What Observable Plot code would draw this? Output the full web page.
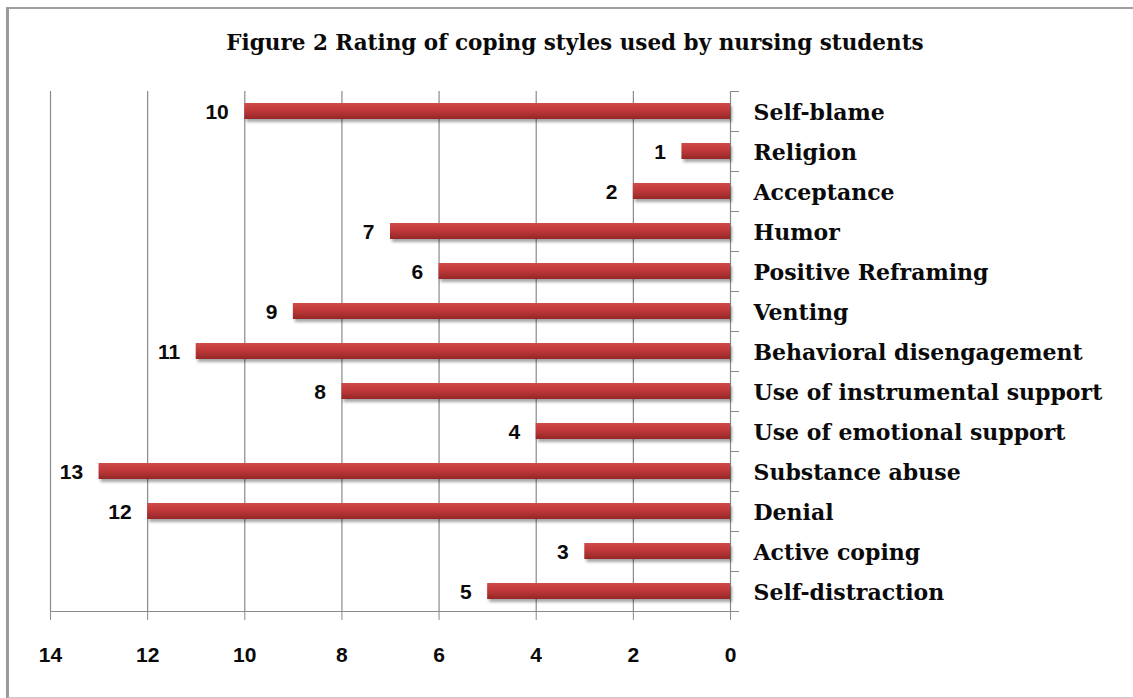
<!DOCTYPE html>
<html>
<head>
<meta charset="utf-8">
<script src="https://cdn.jsdelivr.net/npm/d3@7"></script>
<script src="https://cdn.jsdelivr.net/npm/@observablehq/plot@0.6"></script>
<style>
  html, body { margin: 0; padding: 0; background: #fff; }
  #wrap { position: relative; width: 1133px; height: 698px; overflow: hidden; }
  #frame { position: absolute; left: 6px; top: 7px; width: 1140px; height: 688px;
           border-left: 3px solid #9a9a9a; border-top: 2px solid #a0a0a0; border-bottom: 2px solid #c8c8c8; }
  #title { position: absolute; left: 0; top: 30px; width: 1150px; text-align: center;
           font-family: "DejaVu Serif", serif; font-weight: bold; font-size: 21.5px; color: #0a0a0a; }
  #chart { position: absolute; left: 0; top: 0; }
</style>
</head>
<body>
<div id="wrap">
  <div id="frame"></div>
  <div id="title">Figure 2 Rating of coping styles used by nursing students</div>
  <div id="chart"></div>
</div>
<script>
const categories = ["Self-blame", "Religion", "Acceptance", "Humor", "Positive Reframing", "Venting",
  "Behavioral disengagement", "Use of instrumental support", "Use of emotional support",
  "Substance abuse", "Denial", "Active coping", "Self-distraction"];
const values = [10, 1, 2, 7, 6, 9, 11, 8, 4, 13, 12, 3, 5];
const xTicks = [0, 2, 4, 6, 8, 10, 12, 14];

const data = categories.map((c, i) => ({name: c, value: values[i]}));

const defs = () => {
  const g = d3.create("svg:defs");
  const lg = g.append("linearGradient").attr("id", "barGrad").attr("x1", 0).attr("y1", 0).attr("x2", 0).attr("y2", 1);
  lg.append("stop").attr("offset", "0%").attr("stop-color", "#d04a47");
  lg.append("stop").attr("offset", "45%").attr("stop-color", "#c0393a");
  lg.append("stop").attr("offset", "100%").attr("stop-color", "#952625");
  const f = g.append("filter").attr("id", "shadow").attr("x", "-5%").attr("y", "-50%").attr("width", "115%").attr("height", "220%");
  f.append("feDropShadow").attr("dx", 2).attr("dy", 3).attr("stdDeviation", 1.6).attr("flood-color", "#000").attr("flood-opacity", 0.35);
  return g.node();
};

const serif = "DejaVu Serif, serif";
const sans = "Liberation Sans, Arial, sans-serif";

const plot = Plot.plot({
  width: 1133,
  height: 698,
  marginLeft: 50,
  marginRight: 403,
  marginTop: 91,
  marginBottom: 87,
  style: {background: "transparent", overflow: "visible"},
  x: {domain: [0, 14], reverse: true, ticks: xTicks, label: null},
  y: {domain: categories, paddingInner: 0.6, paddingOuter: 0.3, align: 0.5, label: null},
  marks: [
    defs,
    Plot.ruleX(xTicks, {stroke: "#8a8a8a", strokeWidth: 1.2}),
    Plot.ruleY([categories[categories.length - 1]], {x1: 0, x2: 14, dy: 20, stroke: "#8a8a8a", strokeWidth: 1.2}),
    Plot.axisX({ticks: xTicks, tickSize: 9, tickPadding: 27, stroke: "#8a8a8a", fontSize: 21, fontWeight: "bold",
      fontFamily: sans, fill: "#0a0a0a", tickFormat: d => String(d), label: null}),
    Plot.axisY({anchor: "right", ticks: categories, tickSize: 8, tickFormat: () => "", dy: 20, stroke: "#8a8a8a", label: null}),
    Plot.axisY({anchor: "right", ticks: [categories[0]], tickSize: 8, tickFormat: () => "", dy: -20, stroke: "#8a8a8a", label: null}),
    Plot.barX(data, {x: "value", y: "name", fill: "url(#barGrad)"}),
    Plot.text(data, {x: 0, y: "name", text: "name", textAnchor: "start", dx: 23, dy: 1,
      fontFamily: serif, fontWeight: "bold", fontSize: 22, fill: "#0a0a0a"}),
    Plot.text(data, {x: "value", y: "name", text: d => String(d.value), textAnchor: "end", dx: -16, dy: 1,
      fontFamily: sans, fontWeight: "bold", fontSize: 21, fill: "#0a0a0a"})
  ]
});

d3.select(plot).selectAll("g[aria-label='bar']").attr("filter", "url(#shadow)");
document.getElementById("chart").appendChild(plot);
</script>
</body>
</html>
